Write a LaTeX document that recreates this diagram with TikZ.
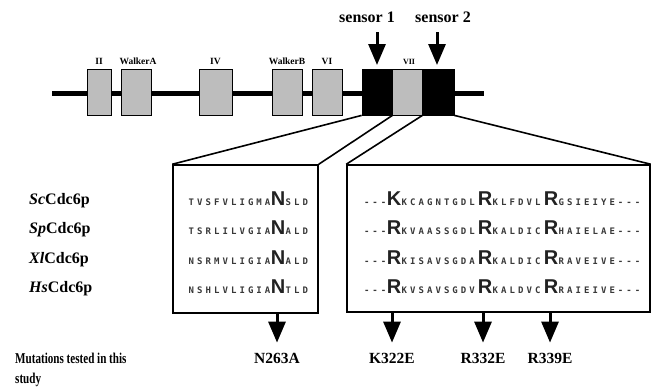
\documentclass[tikz,border=0pt]{standalone}
\usepackage{fontspec}
\usepackage{graphicx}
\setmainfont{Liberation Serif}
\newfontfamily\seqfont[LetterSpace=34]{DejaVu Sans Mono}
\newfontfamily\resfont{Liberation Sans}
\usetikzlibrary{arrows.meta}

\definecolor{domgray}{HTML}{BDBDBD}
\definecolor{seqsmall}{HTML}{383838}
\definecolor{seqbig}{HTML}{222222}

% one aligned row of the left panel: index, baseline, before, key residue, after
\newcommand{\seqL}[5]{%
  \node[bigres, anchor=base] (L#1) at (278,#2) {#4};
  \node[smallres, anchor=base east] (L#1a) at (L#1.base west) {#3};
  \node[smallres, anchor=base west] (L#1b) at (L#1.base east) {#5};
}
% one aligned row of the right panel: index, baseline, then segments and key residues
\newcommand{\seqR}[9]{%
  \node[bigres, anchor=base] (R#1x) at (394,#2) {#4};
  \node[bigres, anchor=base] (R#1y) at (485,#2) {#6};
  \node[bigres, anchor=base] (R#1z) at (551,#2) {#8};
  \node[smallres, anchor=base east] (R#1a) at (R#1x.base west) {#3};
  \node[smallres, anchor=base west] (R#1b) at (R#1x.base east) {#5};
  \node[smallres, anchor=base west] (R#1c) at (R#1y.base east) {#7};
  \node[smallres, anchor=base west] (R#1d) at (R#1z.base east) {#9};
}

\begin{document}
\begin{tikzpicture}[x=1pt,y=-1pt,
  dom/.style={draw=black, line width=0.8pt, fill=domgray, minimum width=#1,
    minimum height=46pt, inner sep=0pt},
  sensorbox/.style={draw=black, line width=0.8pt, fill=black, minimum width=#1,
    minimum height=46pt, inner sep=0pt},
  domlabel/.style={font=\fontsize{9.5}{10}\selectfont\bfseries, inner sep=0pt, anchor=base},
  sensorlabel/.style={font=\fontsize{16}{18}\selectfont\bfseries, inner sep=0pt, anchor=base},
  backbone/.style={line width=5pt},
  zoomline/.style={line width=1.6pt},
  panel/.style={draw=black, line width=1.5pt, inner sep=0pt},
  fatarrow/.style={line width=3pt, -{Triangle[width=17pt,length=21pt]}},
  species/.style={font=\fontsize{16}{18}\selectfont\bfseries, inner sep=0pt, anchor=base west},
  smallres/.style={font=\fontsize{9}{10}\seqfont\bfseries, text=seqsmall, inner sep=0pt},
  bigres/.style={font=\fontsize{20}{22}\resfont\bfseries, text=seqbig, inner sep=0pt},
  mut/.style={font=\fontsize{15.5}{17}\selectfont\bfseries, inner sep=0pt},
  note/.style={font=\fontsize{15}{17}\selectfont\bfseries, inner sep=0pt, anchor=base west}]

\useasboundingbox (0,0) rectangle (652,389);

% protein backbone
\coordinate (nterm) at (52,93);
\coordinate (cterm) at (484,93);
\draw[backbone] (nterm) -- (cterm);

% conserved motifs
\node[dom=24pt] (II) at (99,92) {};
\node[dom=30pt] (WA) at (136,92) {};
\node[dom=33pt] (IV) at (215.5,92) {};
\node[dom=30pt] (WB) at (287,92) {};
\node[dom=30pt] (VI) at (327,92) {};
\node[sensorbox=30pt] (S1) at (377,92) {};
\node[dom=30pt] (VII) at (407,92) {};
\node[sensorbox=32pt] (S2) at (438,92) {};

\node[domlabel] (lII) at (99,64) {II};
\node[domlabel] (lWA) at (138,64) {WalkerA};
\node[domlabel] (lIV) at (215.5,64) {IV};
\node[domlabel] (lWB) at (287,64) {WalkerB};
\node[domlabel] (lVI) at (327,64) {VI};
\node[domlabel, font=\fontsize{8}{9}\selectfont\bfseries] (lVII) at (409,64) {VII};

% sensor labels and arrows
\node[sensorlabel] (ls1) at (367,22) {sensor 1};
\node[sensorlabel] (ls2) at (443,22) {sensor 2};
\coordinate (s1top) at (377,32);
\coordinate (s1tip) at (377,65);
\coordinate (s2top) at (437,32);
\coordinate (s2tip) at (437,65);
\draw[fatarrow] (s1top) -- (s1tip);
\draw[fatarrow] (s2top) -- (s2tip);

% alignment panels
\node[panel, minimum width=145pt, minimum height=148pt] (lbox) at (245.5,239) {};
\node[panel, minimum width=303pt, minimum height=147pt] (rbox) at (498.5,238.5) {};

\draw[zoomline] (S1.south west) -- (lbox.north west);
\draw[zoomline] (S1.south east) -- (lbox.north east);
\draw[zoomline] (VII.south east) -- (rbox.north west);
\draw[zoomline] (S2.south east) -- (rbox.north east);

% species
\node[species] (sp1) at (29,204) {\textit{Sc}Cdc6p};
\node[species] (sp2) at (29,233.5) {\textit{Sp}Cdc6p};
\node[species] (sp3) at (29,263) {\textit{Xl}Cdc6p};
\node[species] (sp4) at (29,292.5) {\textit{Hs}Cdc6p};

% sequences
\seqL{1}{205}{TVSFVLIGMA}{N}{SLD}
\seqL{2}{234.5}{TSRLILVGIA}{N}{ALD}
\seqL{3}{264}{NSRMVLIGIA}{N}{ALD}
\seqL{4}{293.5}{NSHLVLIGIA}{N}{TLD}

\seqR{1}{205}{---}{K}{KCAGNTGDL}{R}{KLFDVL}{R}{GSIEIYE---}
\seqR{2}{234.5}{---}{R}{KVAASSGDL}{R}{KALDIC}{R}{HAIELAE---}
\seqR{3}{264}{---}{R}{KISAVSGDA}{R}{KALDIC}{R}{RAVEIVE---}
\seqR{4}{293.5}{---}{R}{KVSAVSGDV}{R}{KALDVC}{R}{RAIEIVE---}

% mutations
\node[mut] (m1) at (277,358) {N263A};
\node[mut] (m2) at (392,358) {K322E};
\node[mut] (m3) at (483,358) {R332E};
\node[mut] (m4) at (550,358) {R339E};
\draw[fatarrow, shorten >=10pt] (lbox.south -| m1) -- (m1.north);
\draw[fatarrow, shorten >=10pt] (rbox.south -| m2) -- (m2.north);
\draw[fatarrow, shorten >=10pt] (rbox.south -| m3) -- (m3.north);
\draw[fatarrow, shorten >=10pt] (rbox.south -| m4) -- (m4.north);

\node[note] (mt1) at (15,363) {\scalebox{0.74}[1]{Mutations tested in this}};
\node[note] (mt2) at (15,383) {\scalebox{0.74}[1]{study}};

\end{tikzpicture}
\end{document}
